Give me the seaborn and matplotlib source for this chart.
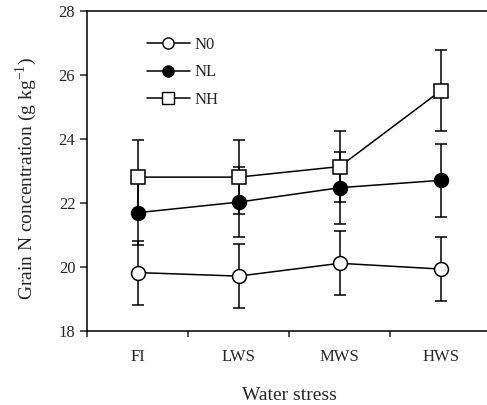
import pandas as pd
import seaborn as sns
import matplotlib.pyplot as plt
from matplotlib.lines import Line2D

# Values
stress = ["FI", "LWS", "MWS", "HWS"]
pos = [0.5, 1.5, 2.5, 3.5]
n0 = [19.82, 19.71, 20.11, 19.93]
n0_err = [1.0, 1.0, 1.0, 1.0]
nl = [21.69, 22.02, 22.47, 22.70]
nl_err = [1.0, 1.1, 1.12, 1.13]
nh = [22.80, 22.80, 23.13, 25.50]
nh_err = [1.15, 1.15, 1.11, 1.27]

sns.set_style("ticks")
plt.rcParams['font.family'] = ['Liberation Serif', 'DejaVu Serif']
plt.rcParams['mathtext.fontset'] = 'stix'

fig = plt.figure(figsize=(4.87, 4.05), dpi=100)
ax = fig.add_axes([0.179, 0.183, 0.83, 0.791])

series = [
    ("N0", n0, n0_err, "o", "white"),
    ("NL", nl, nl_err, "o", "black"),
    ("NH", nh, nh_err, "s", "white"),
]

handles = []
for i, (name, vals, err, mk, fc) in enumerate(series):
    df = pd.DataFrame({"pos": pos, "val": vals})
    ax.errorbar(pos, vals, yerr=err, fmt="none", ecolor="black",
                elinewidth=1.1, capsize=4.3, capthick=1.1, zorder=2 + i * 2)
    sns.lineplot(data=df, x="pos", y="val", ax=ax, color="black", lw=1.1,
                 marker=mk, markersize=10 if mk == "o" else 10.5,
                 markerfacecolor=fc, markeredgecolor="black",
                 markeredgewidth=1.1, zorder=3 + i * 2)
    handles.append(Line2D([], [], color="black", lw=1.1, marker=mk,
                          markersize=8, markerfacecolor=fc,
                          markeredgecolor="black", label=name))

ax.set_xlim(0, 4)
ax.set_ylim(18, 28)
ax.set_yticks([18, 20, 22, 24, 26, 28])
ax.set_xticks([0, 1, 2, 3, 4])
ax.set_xticklabels([])
ax.set_xticks(pos, minor=True)
ax.set_xticklabels(stress, minor=True)
ax.tick_params(axis="x", which="minor", length=0, pad=13, labelsize=12)
ax.tick_params(axis="x", which="major", length=4, width=1.1)
ax.tick_params(axis="y", length=5, width=1.1, labelsize=12)

for s in ax.spines.values():
    s.set_linewidth(1.1)
    s.set_color("black")

ax.set_xlabel("Water stress", fontsize=14, labelpad=16)
ax.set_ylabel("Grain N concentration (g kg$^{\\mathregular{-1}}$)",
              fontsize=14)
ax.yaxis.set_label_coords(-0.118, 0.475)

ax.legend(handles=handles, loc="upper left", bbox_to_anchor=(0.11, 0.965),
          frameon=False, handlelength=2.6, labelspacing=0.7,
          fontsize=12, handletextpad=0.25)

fig.savefig("out.png", dpi=100)
